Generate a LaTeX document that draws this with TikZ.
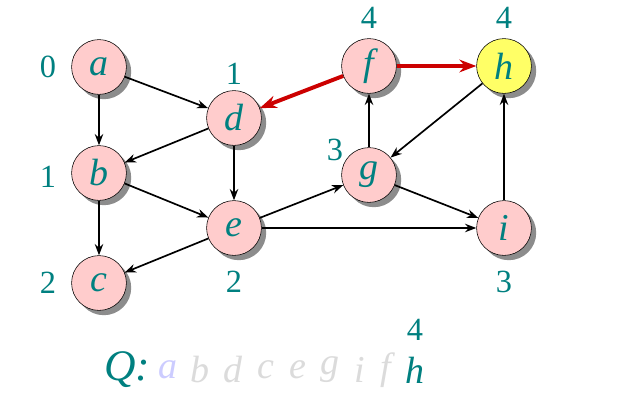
\documentclass[tikz,border=0pt]{standalone}
\usepackage{fontspec}
\setmainfont{Liberation Serif}
\usetikzlibrary{shadows,arrows.meta}

\definecolor{tealtxt}{RGB}{0,128,128}
\definecolor{nodepink}{RGB}{255,204,204}
\definecolor{nodeyellow}{RGB}{255,255,102}
\definecolor{treered}{RGB}{204,0,0}

\begin{document}
\begin{tikzpicture}[x=0.025cm,y=-0.025cm,
  vertex/.style={circle, draw=black, fill=nodepink, minimum size=1.37cm, inner sep=0pt,
    text=tealtxt, font=\fontsize{27}{27}\selectfont\itshape,
    drop shadow={shadow xshift=0.12cm, shadow yshift=-0.12cm, fill=black!45, opacity=1}},
  dist/.style={text=tealtxt, font=\fontsize{23}{23}\selectfont},
  edge/.style={-{Stealth[length=8pt,width=6pt]}, line width=1.2pt},
  treeedge/.style={-{Stealth[length=12pt,width=9pt]}, line width=2.8pt, draw=treered},
  qitem/.style={font=\fontsize{27}{27}\selectfont\itshape}]
  \fill[white] (0,0) rectangle (618,405);
  % vertices
  \node[vertex] (a) at (99,67) {a};
  \node[vertex] (d) at (234,118) {d};
  \node[vertex] (b) at (99,173) {b};
  \node[vertex] (e) at (234,228) {e};
  \node[vertex] (c) at (99,283) {c};
  \node[vertex] (f) at (369,66) {f};
  \node[vertex, fill=nodeyellow] (h) at (504,66) {h};
  \node[vertex] (g) at (369,175) {g};
  \node[vertex] (i) at (504,228) {i};
  % distances
  \node[dist] (da) at (48,67) {0};
  \node[dist] (dd) at (234,74) {1};
  \node[dist] (db) at (48,177) {1};
  \node[dist] (dc) at (48,283) {2};
  \node[dist] (de) at (234,282) {2};
  \node[dist] (df) at (369,18) {4};
  \node[dist] (dh) at (504,18) {4};
  \node[dist] (dg) at (335,150) {3};
  \node[dist] (di) at (504,282) {3};
  % edges
  \draw[edge] (a) -- (d);
  \draw[edge] (a) -- (b);
  \draw[edge] (d) -- (b);
  \draw[edge] (d) -- (e);
  \draw[edge] (b) -- (c);
  \draw[edge] (b) -- (e);
  \draw[edge] (e) -- (c);
  \draw[edge] (e) -- (g);
  \draw[edge] (e) -- (i);
  \draw[edge] (g) -- (f);
  \draw[edge] (h) -- (g);
  \draw[edge] (g) -- (i);
  \draw[edge] (i) -- (h);
  \draw[treeedge] (f) -- (d);
  \draw[treeedge] (f) -- (h);
  % queue
  \node[qitem, text=tealtxt, font=\fontsize{31}{31}\selectfont\itshape] (q) at (127,370) {Q:};
  \node[qitem, text=blue!20] (qa) at (168,370) {a};
  \node[qitem, text=black!14] (qb) at (200,370) {b};
  \node[qitem, text=black!14] (qd) at (233,370) {d};
  \node[qitem, text=black!14] (qc) at (266,370) {c};
  \node[qitem, text=black!14] (qe) at (298,370) {e};
  \node[qitem, text=black!14] (qg) at (330,370) {g};
  \node[qitem, text=black!14] (qi) at (360,370) {i};
  \node[qitem, text=black!14] (qf) at (386,370) {f};
  \node[qitem, text=tealtxt] (qh) at (415,370) {h};
  \node[dist] (dq) at (415,330) {4};
\end{tikzpicture}
\end{document}
